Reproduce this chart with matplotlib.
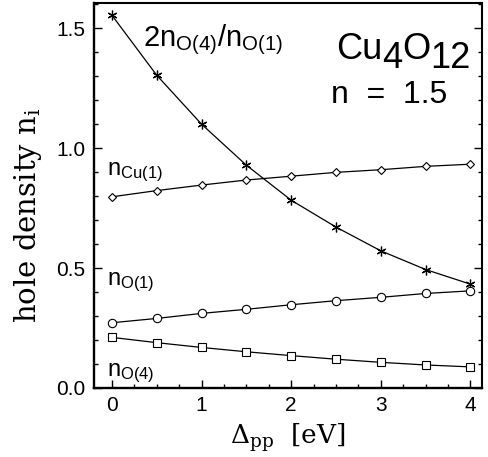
import matplotlib
matplotlib.use('Agg')
import matplotlib.pyplot as plt
from matplotlib.ticker import MultipleLocator

plt.rcParams['font.family'] = ['Liberation Sans', 'DejaVu Sans']
plt.rcParams['mathtext.fontset'] = 'custom'
plt.rcParams['mathtext.rm'] = 'DejaVu Serif'
plt.rcParams['mathtext.it'] = 'DejaVu Serif:italic'
plt.rcParams['mathtext.sf'] = 'Liberation Sans'

# charge transfer energy (eV)
delta_pp = [0, 0.5, 1, 1.5, 2, 2.5, 3, 3.5, 4]

# hole densities
ratio_o4_o1 = [1.554, 1.304, 1.100, 0.929, 0.783, 0.671, 0.572, 0.494, 0.433]
n_cu1 = [0.797, 0.823, 0.846, 0.867, 0.883, 0.899, 0.910, 0.924, 0.933]
n_o1 = [0.272, 0.290, 0.311, 0.328, 0.347, 0.364, 0.378, 0.394, 0.405]
n_o4 = [0.211, 0.189, 0.169, 0.151, 0.135, 0.120, 0.107, 0.096, 0.088]

fig = plt.figure(figsize=(4.88, 4.57), dpi=100)
ax = fig.add_axes([0.1926, 0.151, 0.7951, 0.8424])

lw = 0.9
ax.plot(delta_pp, ratio_o4_o1, '-', color='black', lw=lw,
        marker=(6, 2, 0), ms=7, mew=0.9)
ax.plot(delta_pp, n_cu1, '-', color='black', lw=lw,
        marker='D', ms=4.5, mfc='white', mew=0.8)
ax.plot(delta_pp, n_o1, '-', color='black', lw=lw,
        marker='o', ms=6, mfc='white', mew=0.8)
ax.plot(delta_pp, n_o4, '-', color='black', lw=lw,
        marker='s', ms=5.5, mfc='white', mew=0.8)

ax.set_xlim(-0.2, 4.13)
ax.set_ylim(0.0, 1.605)

ax.xaxis.set_major_locator(MultipleLocator(1))
ax.xaxis.set_minor_locator(MultipleLocator(0.25))
ax.yaxis.set_major_locator(MultipleLocator(0.5))
ax.yaxis.set_minor_locator(MultipleLocator(0.1))
ax.yaxis.set_major_formatter(plt.FuncFormatter(lambda v, p: f'{v:.1f}'))

ax.tick_params(which='both', direction='in', right=True, top=False,
               labelsize=15, width=1.0)
ax.tick_params(which='major', length=5.5, pad=6)
ax.tick_params(which='minor', length=3)

for s in ['left', 'bottom']:
    ax.spines[s].set_linewidth(1.7)
for s in ['top', 'right']:
    ax.spines[s].set_linewidth(1.5)

ax.set_ylabel(r'hole density $\mathrm{n_i}$', fontsize=21,
              family='DejaVu Serif')
ax.yaxis.set_label_coords(-0.13, 0.45)
ax.set_xlabel(r'$\mathrm{\Delta_{pp}}$  [eV]', fontsize=19,
              family='DejaVu Serif', labelpad=4)

# curve labels
fs = 17
ax.text(0.35, 1.425, r'$\mathsf{2n_{O(4)}/n_{O(1)}}$', fontsize=21)
ax.text(-0.06, 0.888, r'$\mathsf{n_{Cu(1)}}$', fontsize=fs)
ax.text(-0.06, 0.43, r'$\mathsf{n_{O(1)}}$', fontsize=fs)
ax.text(-0.06, 0.05, r'$\mathsf{n_{O(4)}}$', fontsize=fs)

# compound formula, subscripts set at full size and dropped a little
big = 26
t1 = ax.text(2.50, 1.37, 'Cu', fontsize=big, va='baseline')
t2 = ax.annotate('4', xy=(1, 0), xycoords=t1, xytext=(0, -6.5),
                 textcoords='offset points', fontsize=big, va='bottom')
t3 = ax.annotate('O', xy=(1, 0), xycoords=t2, xytext=(0, 6.5),
                 textcoords='offset points', fontsize=big, va='bottom')
ax.annotate('12', xy=(1, 0), xycoords=t3, xytext=(0, -6.5),
            textcoords='offset points', fontsize=big, va='bottom')

ax.text(2.45, 1.19, 'n  =  1.5', fontsize=23, va='baseline')

fig.savefig('out.png', dpi=100)
